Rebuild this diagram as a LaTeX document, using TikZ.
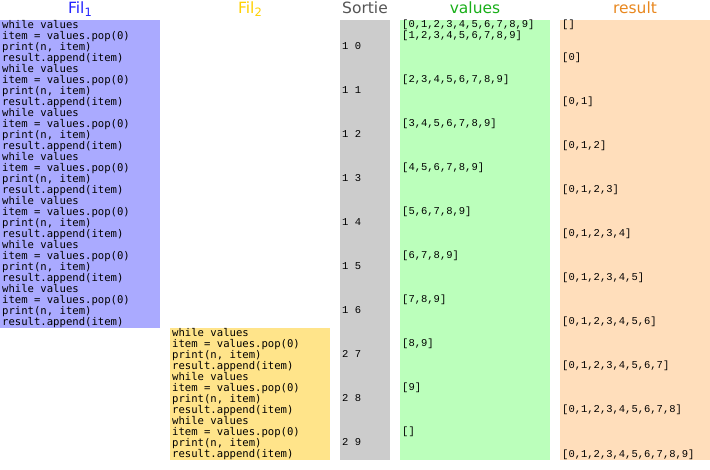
\documentclass[tikz,border=0pt]{standalone}
\usepackage{fontspec}
\setmainfont{DejaVu Sans}
\newfontfamily\codefont{DejaVu Sans Mono}
\newfontfamily\valfont{Liberation Mono}
\definecolor{bgA}{RGB}{170,170,255}
\definecolor{bgB}{RGB}{255,228,138}
\definecolor{bgS}{RGB}{204,204,204}
\definecolor{bgV}{RGB}{187,255,187}
\definecolor{bgR}{RGB}{255,222,187}
\definecolor{hA}{RGB}{35,35,255}
\definecolor{hB}{RGB}{255,208,0}
\definecolor{hS}{RGB}{85,85,85}
\definecolor{hV}{RGB}{25,175,25}
\definecolor{hR}{RGB}{232,135,30}
\tikzset{
  colbox/.style={inner sep=0pt, outer sep=0pt, anchor=north west, draw=none},
  codeline/.style={inner sep=0pt, anchor=base west, font=\codefont\fontsize{10.6}{11}\selectfont},
  valline/.style={inner sep=0pt, anchor=base west, font=\valfont\fontsize{10.5}{11}\selectfont},
  header/.style={inner sep=0pt, anchor=base, font=\fontsize{15.5}{16}\selectfont}
}
\newcommand{\codetext}[1]{\ifcase#1 while values\or item = values.pop(0)\or print(n, item)\or result.append(item)\fi}
\begin{document}
\begin{tikzpicture}[x=1pt,y=-1pt]
\useasboundingbox (0,0) rectangle (710,470);
% column boxes
\node[colbox, fill=bgA, minimum width=160, minimum height=308] (boxA) at (0,20) {};
\node[colbox, fill=bgB, minimum width=160, minimum height=132] (boxB) at (170,328) {};
\node[colbox, fill=bgS, minimum width=50, minimum height=440] (boxS) at (340,20) {};
\node[colbox, fill=bgV, minimum width=150, minimum height=440] (boxV) at (400,20) {};
\node[colbox, fill=bgR, minimum width=150, minimum height=440] (boxR) at (560,20) {};
% headers
\node[header, text=hA] (hdA) at (80,13.3) {Fil\raisebox{-3pt}{\fontsize{11.5}{12}\selectfont 1}};
\node[header, text=hB] (hdB) at (250,13.3) {Fil\raisebox{-3pt}{\fontsize{11.5}{12}\selectfont 2}};
\node[header, text=hS] (hdS) at (365,13.3) {Sortie};
\node[header, text=hV] (hdV) at (475,13.3) {values};
\node[header, text=hR] (hdR) at (635,13.3) {result};
% thread 1 code
\foreach \i in {0,...,27} {
  \pgfmathtruncatemacro\k{mod(\i,4)}
  \node[codeline] (ca\i) at (2,{20+11*\i+8.5}) {\codetext{\k}};
}
% thread 2 code
\foreach \i in {0,...,11} {
  \pgfmathtruncatemacro\k{mod(\i,4)}
  \node[codeline] (cb\i) at (172,{328+11*\i+8.5}) {\codetext{\k}};
}
% output
\foreach \t/\l [count=\n] in {1 0/2,1 1/6,1 2/10,1 3/14,1 4/18,1 5/22,1 6/26,2 7/30,2 8/34,2 9/38} {
  \node[valline] (so\n) at (342,{20+11*\l+8}) {\t};
}
% values
\foreach \t/\l [count=\n] in {{[0,1,2,3,4,5,6,7,8,9]}/0,{[1,2,3,4,5,6,7,8,9]}/1,{[2,3,4,5,6,7,8,9]}/5,{[3,4,5,6,7,8,9]}/9,{[4,5,6,7,8,9]}/13,{[5,6,7,8,9]}/17,{[6,7,8,9]}/21,{[7,8,9]}/25,{[8,9]}/29,{[9]}/33,{[]}/37} {
  \node[valline] (va\n) at (402,{20+11*\l+8}) {\t};
}
% result
\foreach \t/\l [count=\n] in {{[]}/0,{[0]}/3,{[0,1]}/7,{[0,1,2]}/11,{[0,1,2,3]}/15,{[0,1,2,3,4]}/19,{[0,1,2,3,4,5]}/23,{[0,1,2,3,4,5,6]}/27,{[0,1,2,3,4,5,6,7]}/31,{[0,1,2,3,4,5,6,7,8]}/35,{[0,1,2,3,4,5,6,7,8,9]}/39} {
  \node[valline] (re\n) at (562,{20+11*\l+8}) {\t};
}
\end{tikzpicture}
\end{document}
